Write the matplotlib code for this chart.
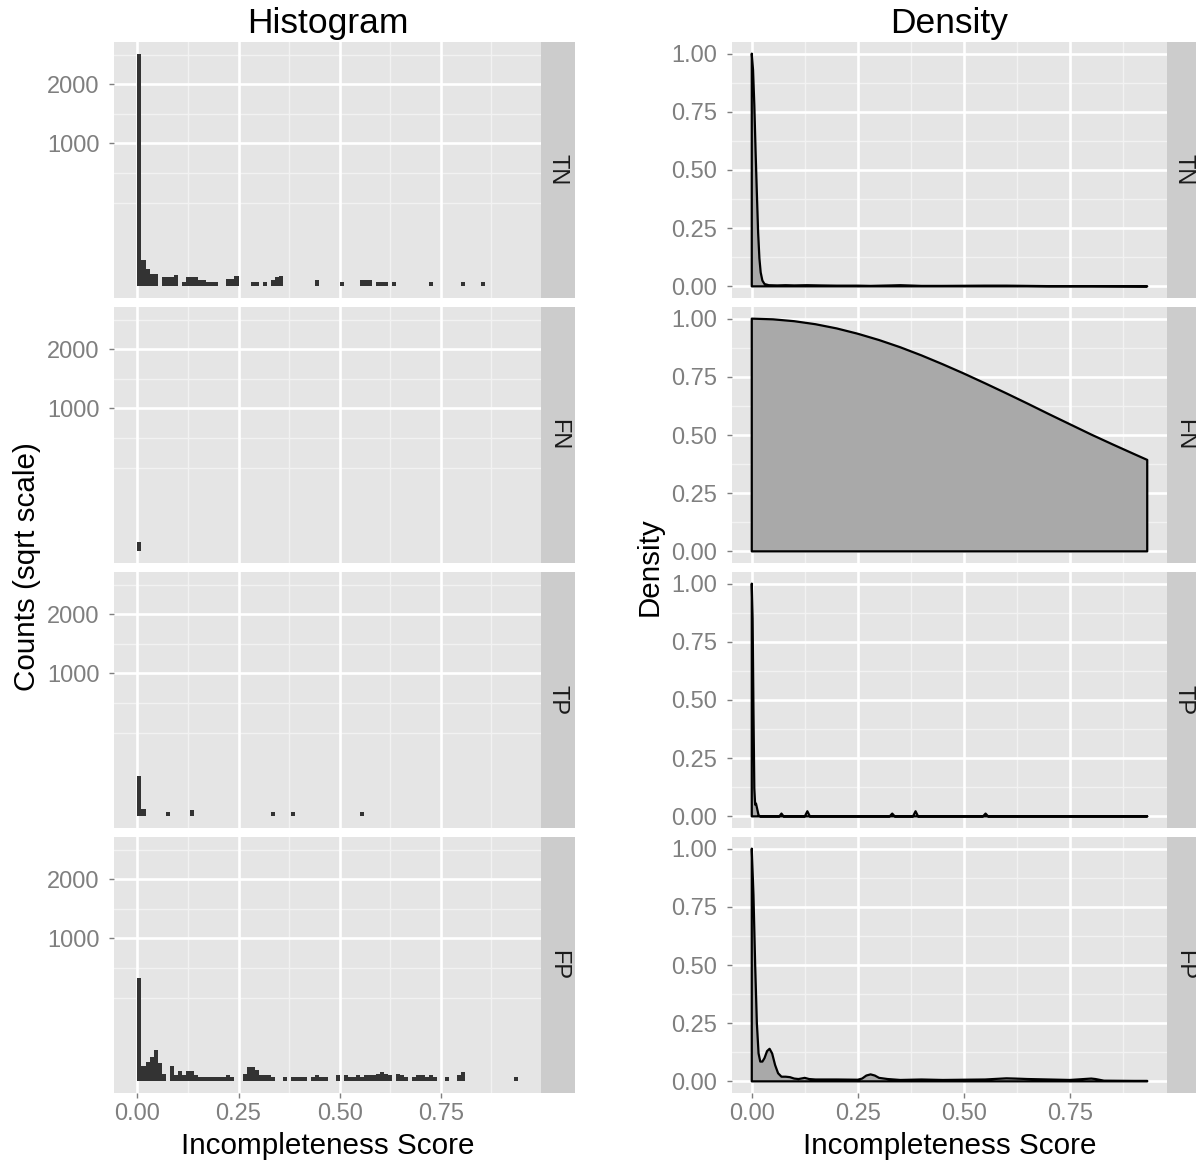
import numpy as np
import matplotlib
matplotlib.use('Agg')
import matplotlib.pyplot as plt

plt.rcParams['font.family'] = ['Liberation Sans', 'DejaVu Sans']

# ---------------- data ----------------
classes = ['TN', 'FN', 'TP', 'FP']
bin_width = 0.01
hist_range = (-0.01, 0.95)      # range spanned by histogram bins
dens_range = (0.0, 0.932)       # range of the density estimate

# histogram: left edge of each non-empty bin and its count
tn_edge = [0.00, 0.01, 0.02, 0.03, 0.04, 0.06, 0.07, 0.08, 0.09, 0.11, 0.12, 0.13,
           0.14, 0.15, 0.16, 0.17, 0.18, 0.19, 0.22, 0.23, 0.24, 0.28, 0.29, 0.31,
           0.33, 0.34, 0.35, 0.44, 0.50, 0.55, 0.56, 0.57, 0.59, 0.60, 0.61, 0.63,
           0.72, 0.80, 0.85]
tn_count = [2650, 35, 14, 7, 7, 4, 4, 4, 6, 1, 4, 4,
            4, 2, 2, 1, 1, 1, 3, 3, 5, 1, 1, 1,
            2, 4, 5, 2, 1, 2, 2, 2, 1, 1, 1, 1,
            1, 1, 1]

fn_edge = [0.00]
fn_count = [4]

tp_edge = [0.00, 0.01, 0.07, 0.13, 0.33, 0.38, 0.55]
tp_count = [80, 3, 1, 2, 1, 1, 1]

fp_edge = [0.00, 0.01, 0.02, 0.03, 0.04, 0.05, 0.06, 0.08, 0.09, 0.10, 0.11, 0.12,
           0.13, 0.14, 0.15, 0.16, 0.17, 0.18, 0.19, 0.20, 0.21, 0.22, 0.23, 0.26,
           0.27, 0.28, 0.29, 0.30, 0.31, 0.32, 0.33, 0.36, 0.38, 0.39, 0.40, 0.41,
           0.43, 0.44, 0.45, 0.46, 0.49, 0.51, 0.52, 0.53, 0.54, 0.55, 0.56, 0.57,
           0.58, 0.59, 0.60, 0.61, 0.62, 0.64, 0.65, 0.66, 0.68, 0.69, 0.70, 0.71,
           0.72, 0.73, 0.76, 0.79, 0.80, 0.93]
fp_count = [520, 11, 19, 30, 48, 16, 3, 11, 2, 5, 2, 5,
            5, 2, 1, 1, 1, 1, 1, 1, 1, 2, 1, 3,
            10, 10, 6, 2, 2, 2, 1, 1, 1, 1, 1, 1,
            1, 2, 1, 1, 2, 2, 1, 1, 2, 1, 2, 2,
            2, 3, 4, 3, 2, 3, 2, 1, 1, 2, 2, 1,
            2, 1, 1, 2, 4, 1]

# scaled density curves (x, y)
tn_dens_x = [0.0, 0.003, 0.006, 0.009, 0.012, 0.015, 0.018, 0.021, 0.025, 0.03, 0.04,
             0.06, 0.08, 0.10, 0.13, 0.16, 0.20, 0.25, 0.28, 0.33, 0.35, 0.40, 0.45,
             0.55, 0.60, 0.70, 0.80, 0.932]
tn_dens_y = [1.0, 0.93, 0.78, 0.58, 0.40, 0.23, 0.12, 0.06, 0.025, 0.01, 0.005,
             0.004, 0.005, 0.004, 0.005, 0.004, 0.003, 0.003, 0.002, 0.004, 0.005, 0.002, 0.002,
             0.003, 0.003, 0.001, 0.001, 0.0]

fn_dens_x = [0.0, 0.05, 0.1, 0.15, 0.2, 0.25, 0.3, 0.35, 0.4, 0.45, 0.5, 0.55, 0.6,
             0.65, 0.7, 0.75, 0.8, 0.85, 0.9, 0.932]
fn_dens_y = [1.0, 0.997, 0.989, 0.976, 0.958, 0.935, 0.908, 0.877, 0.842, 0.804, 0.764,
             0.722, 0.679, 0.635, 0.590, 0.546, 0.502, 0.460, 0.419, 0.393]

tp_dens_x = [0.0, 0.002, 0.004, 0.006, 0.008, 0.010, 0.013, 0.016, 0.02, 0.065, 0.07,
             0.075, 0.125, 0.131, 0.137, 0.325, 0.331, 0.337, 0.38, 0.386, 0.392,
             0.545, 0.551, 0.557, 0.932]
tp_dens_y = [1.0, 0.85, 0.45, 0.12, 0.05, 0.055, 0.03, 0.005, 0.0, 0.0, 0.012,
             0.0, 0.0, 0.022, 0.0, 0.0, 0.012, 0.0, 0.0, 0.022, 0.0,
             0.0, 0.012, 0.0, 0.0]

fp_dens_x = [0.0, 0.004, 0.008, 0.012, 0.016, 0.020, 0.025, 0.030, 0.036, 0.042, 0.048,
             0.055, 0.062, 0.07, 0.08, 0.09, 0.10, 0.11, 0.125, 0.135, 0.15, 0.2, 0.25,
             0.26, 0.27, 0.28, 0.29, 0.30, 0.32, 0.35, 0.4, 0.45, 0.5, 0.55, 0.6, 0.62,
             0.65, 0.7, 0.75, 0.8, 0.81, 0.83, 0.9, 0.932]
fp_dens_y = [1.0, 0.80, 0.50, 0.25, 0.12, 0.085, 0.085, 0.10, 0.13, 0.14, 0.12,
             0.07, 0.035, 0.02, 0.02, 0.018, 0.012, 0.01, 0.015, 0.01, 0.008, 0.008, 0.007,
             0.012, 0.025, 0.03, 0.025, 0.015, 0.01, 0.006, 0.008, 0.006, 0.007, 0.008, 0.013, 0.012,
             0.01, 0.008, 0.006, 0.012, 0.01, 0.003, 0.002, 0.002]

hist_data = {'TN': (tn_edge, tn_count), 'FN': (fn_edge, fn_count),
             'TP': (tp_edge, tp_count), 'FP': (fp_edge, fp_count)}
dens_data = {'TN': (tn_dens_x, tn_dens_y), 'FN': (fn_dens_x, fn_dens_y),
             'TP': (tp_dens_x, tp_dens_y), 'FP': (fp_dens_x, fp_dens_y)}

hist_yticks = [1000, 2000]
x_ticks = [0.0, 0.25, 0.5, 0.75]
dens_yticks = [0.0, 0.25, 0.5, 0.75, 1.0]

# ---------------- style ----------------
W, H = 1196, 1167
PANEL = '#E5E5E5'
STRIP = '#CCCCCC'
MINOR = '#F2F2F2'
TICKC = '#7F7F7F'
TXT = '#1A1A1A'
FS_TICK = 17
FS_TITLE = 25.5
FS_AXT = 21.3

fig = plt.figure(figsize=(W / 100, H / 100), dpi=100)


def px_axes(x0, y0, x1, y1, **kw):
    return fig.add_axes([x0 / W, 1 - y1 / H, (x1 - x0) / W, (y1 - y0) / H], **kw)


def expand(lo, hi, f=0.05):
    d = (hi - lo) * f
    return lo - d, hi + d


def gg_minor(majors, lim):
    b = list(majors)
    step = b[1] - b[0]
    if lim[0] < b[0]:
        b = [b[0] - step] + b
    if lim[1] > b[-1]:
        b = b + [b[-1] + step]
    out = []
    for a, c in zip(b[:-1], b[1:]):
        out += [a, (a + c) / 2, c]
    return sorted(set(m for m in out if lim[0] <= m <= lim[1]))


rows = [(42, 298), (307, 563), (572, 828), (837, 1093)]
left_x = (114, 541)
right_x = (732, 1167)
strip_w = 34

hist_max = max(max(c) for _, c in hist_data.values())
hist_ylim = expand(0, np.sqrt(hist_max))
hist_xlim = expand(*hist_range)
dens_xlim = expand(*dens_range)
dens_ylim = expand(0, 1.0)


def style_axes(ax, xlim, ylim, xmaj, ymaj, ylabels, show_x):
    ax.set_facecolor(PANEL)
    for s in ax.spines.values():
        s.set_visible(False)
    ax.set_xlim(*xlim)
    ax.set_ylim(*ylim)
    for m in gg_minor(xmaj, xlim):
        ax.axvline(m, color=MINOR, lw=1.0, zorder=0)
    for m in gg_minor(ymaj, ylim):
        ax.axhline(m, color=MINOR, lw=1.0, zorder=0)
    for m in xmaj:
        ax.axvline(m, color='white', lw=1.9, zorder=0.5)
    for m in ymaj:
        ax.axhline(m, color='white', lw=1.9, zorder=0.5)
    ax.set_xticks(xmaj)
    ax.set_yticks(ymaj)
    ax.set_yticklabels(ylabels)
    if show_x:
        ax.set_xticklabels(['%.2f' % v for v in xmaj])
    else:
        ax.set_xticklabels([])
    ax.tick_params(axis='both', colors=TICKC, labelcolor=TICKC, labelsize=FS_TICK,
                   length=3.5, width=1.0)
    ax.tick_params(axis='y', pad=7)
    ax.tick_params(axis='x', pad=4, length=3.5 if show_x else 0)


def add_strip(x0, y0, y1, label):
    s = px_axes(x0, y0, x0 + strip_w, y1)
    s.set_facecolor(STRIP)
    for sp in s.spines.values():
        sp.set_visible(False)
    s.set_xticks([])
    s.set_yticks([])
    s.text(0.5, 0.5, label, rotation=-90, ha='center', va='center',
           fontsize=FS_TICK, color=TXT, transform=s.transAxes)


for i, cls in enumerate(classes):
    y0, y1 = rows[i]
    last = (i == len(classes) - 1)

    # histogram panel
    ax = px_axes(left_x[0], y0, left_x[1], y1)
    edges, counts = hist_data[cls]
    ax.bar(edges, np.sqrt(np.array(counts, dtype=float)), width=bin_width, align='edge',
           color='#333333', linewidth=0, zorder=2)
    style_axes(ax, hist_xlim, hist_ylim, x_ticks, list(np.sqrt(hist_yticks)),
               [str(v) for v in hist_yticks], last)
    add_strip(left_x[1], y0, y1, cls)

    # density panel
    ax2 = px_axes(right_x[0], y0, right_x[1], y1)
    dx, dy = dens_data[cls]
    px = [dx[0]] + list(dx) + [dx[-1]]
    py = [0.0] + list(dy) + [0.0]
    ax2.fill(px, py, facecolor='#A9A9A9', edgecolor='black', linewidth=1.6,
             joinstyle='round', zorder=2)
    style_axes(ax2, dens_xlim, dens_ylim, x_ticks, dens_yticks,
               ['%.2f' % v for v in dens_yticks], last)
    add_strip(right_x[1], y0, y1, cls)

# titles and axis titles
fig.text(sum(left_x) / 2 / W, 1 - 23 / H, 'Histogram', ha='center', va='center',
         fontsize=FS_TITLE, color='black')
fig.text(sum(right_x) / 2 / W, 1 - 23 / H, 'Density', ha='center', va='center',
         fontsize=FS_TITLE, color='black')
fig.text(sum(left_x) / 2 / W, 1 - 1146 / H, 'Incompleteness Score', ha='center', va='center',
         fontsize=FS_AXT, color='black')
fig.text(sum(right_x) / 2 / W, 1 - 1146 / H, 'Incompleteness Score', ha='center', va='center',
         fontsize=FS_AXT, color='black')
fig.text(27 / W, 1 - 567 / H, 'Counts (sqrt scale)', ha='center', va='center',
         rotation=90, fontsize=FS_AXT, color='black')
fig.text(650 / W, 1 - 567 / H, 'Density', ha='center', va='center',
         rotation=90, fontsize=FS_AXT, color='black')

fig.savefig('out.png', dpi=100, facecolor='white')
